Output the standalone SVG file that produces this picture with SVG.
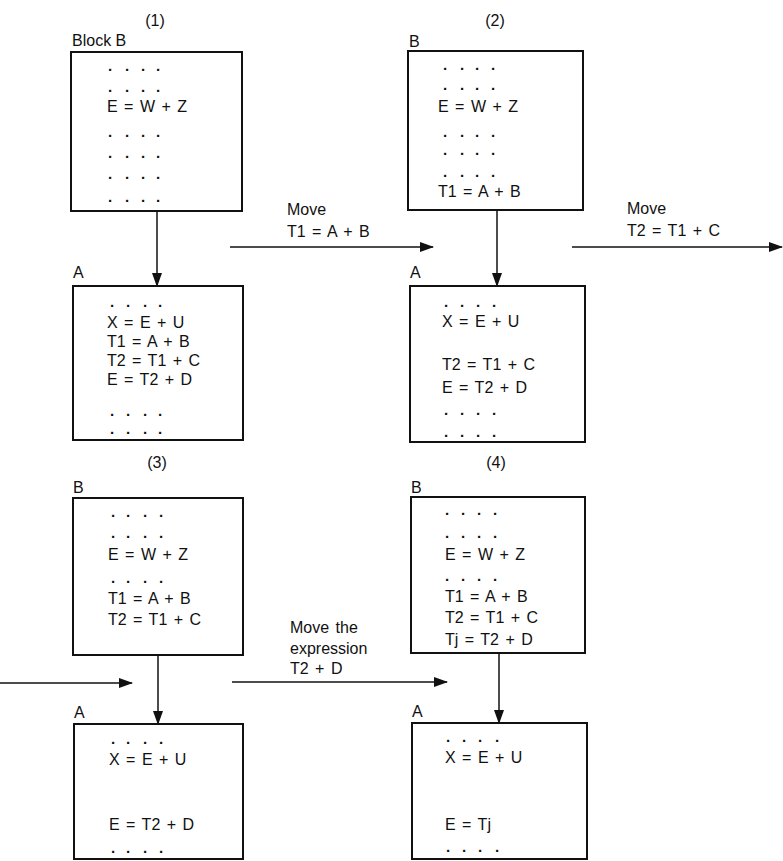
<svg xmlns="http://www.w3.org/2000/svg" width="783" height="861" viewBox="0 0 783 861">
<style>
.box{fill:none;stroke:#111;stroke-width:2}
.t{font-family:"Liberation Sans",Arial,sans-serif;font-size:16px;fill:#111;word-spacing:2px}
.d{font-family:"Liberation Sans",Arial,sans-serif;font-size:15px;fill:#111;font-weight:bold}
.lbl{font-family:"Liberation Sans",Arial,sans-serif;font-size:16px;fill:#111}
.c{fill:none;stroke:#111;stroke-width:1.5}
</style>
<defs>
<marker id="ah" markerUnits="userSpaceOnUse" markerWidth="14" markerHeight="10" refX="13" refY="5" orient="auto">
<path d="M0,0 L14,5 L0,10 Z" fill="#111"/>
</marker>
</defs>
<rect width="783" height="861" fill="#fff"/>
<g id="step-labels">
<text class="lbl" x="155" y="26" text-anchor="middle">(1)</text>
<text class="lbl" x="495" y="26" text-anchor="middle">(2)</text>
<text class="lbl" x="157" y="468" text-anchor="middle">(3)</text>
<text class="lbl" x="496" y="468" text-anchor="middle">(4)</text>
</g>
<g id="b1">
<text class="lbl" x="72" y="46">Block B</text>
<rect class="box" x="71" y="52" width="171" height="159"/>
<text class="d" x="108 125 141 156" y="71">....</text>
<text class="d" x="108 125 141 156" y="92">....</text>
<text class="t" x="107" y="112">E = W + Z</text>
<text class="d" x="108 125 141 156" y="137">....</text>
<text class="d" x="108 125 141 156" y="158">....</text>
<text class="d" x="108 125 141 156" y="179">....</text>
<text class="d" x="108 125 141 156" y="202">....</text>
</g>
<g id="a1">
<text class="lbl" x="73" y="278">A</text>
<rect class="box" x="73" y="286" width="170" height="154"/>
<text class="d" x="110 126 143 158" y="307">....</text>
<text class="t" x="107" y="328">X = E + U</text>
<text class="t" x="107" y="347">T1 = A + B</text>
<text class="t" x="107" y="366">T2 = T1 + C</text>
<text class="t" x="107" y="385">E = T2 + D</text>
<text class="d" x="110 126 143 158" y="416">....</text>
<text class="d" x="110 126 143 158" y="434">....</text>
</g>
<g id="b2">
<text class="lbl" x="409" y="47">B</text>
<rect class="box" x="408" y="51" width="175" height="159"/>
<text class="d" x="443 460 475 491" y="70">....</text>
<text class="d" x="443 460 475 491" y="90">....</text>
<text class="t" x="438" y="112">E = W + Z</text>
<text class="d" x="443 460 475 491" y="137">....</text>
<text class="d" x="443 460 475 491" y="155">....</text>
<text class="d" x="443 460 475 491" y="177">....</text>
<text class="t" x="438" y="197">T1 = A + B</text>
</g>
<g id="a2">
<text class="lbl" x="410" y="278">A</text>
<rect class="box" x="410" y="286" width="175" height="156"/>
<text class="d" x="444 460 476 492" y="307">....</text>
<text class="t" x="442" y="327">X = E + U</text>
<text class="t" x="442" y="370">T2 = T1 + C</text>
<text class="t" x="442" y="393">E = T2 + D</text>
<text class="d" x="444 460 476 492" y="415">....</text>
<text class="d" x="444 460 476 492" y="437">....</text>
</g>
<g id="b3">
<text class="lbl" x="73" y="493">B</text>
<rect class="box" x="73" y="498" width="170" height="157"/>
<text class="d" x="111 126 143 159" y="517">....</text>
<text class="d" x="111 126 143 159" y="538">....</text>
<text class="t" x="108" y="560">E = W + Z</text>
<text class="d" x="111 126 143 159" y="583">....</text>
<text class="t" x="108" y="604">T1 = A + B</text>
<text class="t" x="108" y="625">T2 = T1 + C</text>
</g>
<g id="a3">
<text class="lbl" x="74" y="718">A</text>
<rect class="box" x="74" y="724" width="169" height="135"/>
<text class="d" x="111 126 143 159" y="744">....</text>
<text class="t" x="109" y="765">X = E + U</text>
<text class="t" x="109" y="830">E = T2 + D</text>
<text class="d" x="111 126 143 159" y="853">....</text>
</g>
<g id="b4">
<text class="lbl" x="411" y="493">B</text>
<rect class="box" x="411" y="497" width="174" height="156"/>
<text class="d" x="445 461 477 493" y="515">....</text>
<text class="d" x="445 461 477 493" y="538">....</text>
<text class="t" x="445" y="560">E = W + Z</text>
<text class="d" x="445 461 477 493" y="581">....</text>
<text class="t" x="445" y="602">T1 = A + B</text>
<text class="t" x="445" y="623">T2 = T1 + C</text>
<text class="t" x="445" y="645">Tj = T2 + D</text>
</g>
<g id="a4">
<text class="lbl" x="412" y="717">A</text>
<rect class="box" x="412" y="723" width="175" height="136"/>
<text class="d" x="446 462 478 495" y="742">....</text>
<text class="t" x="445" y="763">X = E + U</text>
<text class="t" x="445" y="830">E = Tj</text>
<text class="d" x="446 462 478 495" y="852">....</text>
</g>
<g id="connectors">
<line class="c" x1="157" y1="211" x2="157" y2="286" marker-end="url(#ah)"/>
<line class="c" x1="497" y1="210" x2="497" y2="286" marker-end="url(#ah)"/>
<line class="c" x1="158" y1="655" x2="158" y2="724" marker-end="url(#ah)"/>
<line class="c" x1="499" y1="653" x2="499" y2="723" marker-end="url(#ah)"/>
<line class="c" x1="230" y1="247" x2="433" y2="247" marker-end="url(#ah)"/>
<line class="c" x1="572" y1="247" x2="782" y2="247" marker-end="url(#ah)"/>
<line class="c" x1="0" y1="683" x2="132" y2="683" marker-end="url(#ah)"/>
<line class="c" x1="232" y1="682" x2="447" y2="682" marker-end="url(#ah)"/>
<text class="t" x="287" y="215">Move</text>
<text class="t" x="287" y="237">T1 = A + B</text>
<text class="t" x="627" y="214">Move</text>
<text class="t" x="627" y="236">T2 = T1 + C</text>
<text class="t" x="290" y="633">Move the</text>
<text class="t" x="290" y="654">expression</text>
<text class="t" x="290" y="674">T2 + D</text>
</g>
</svg>
